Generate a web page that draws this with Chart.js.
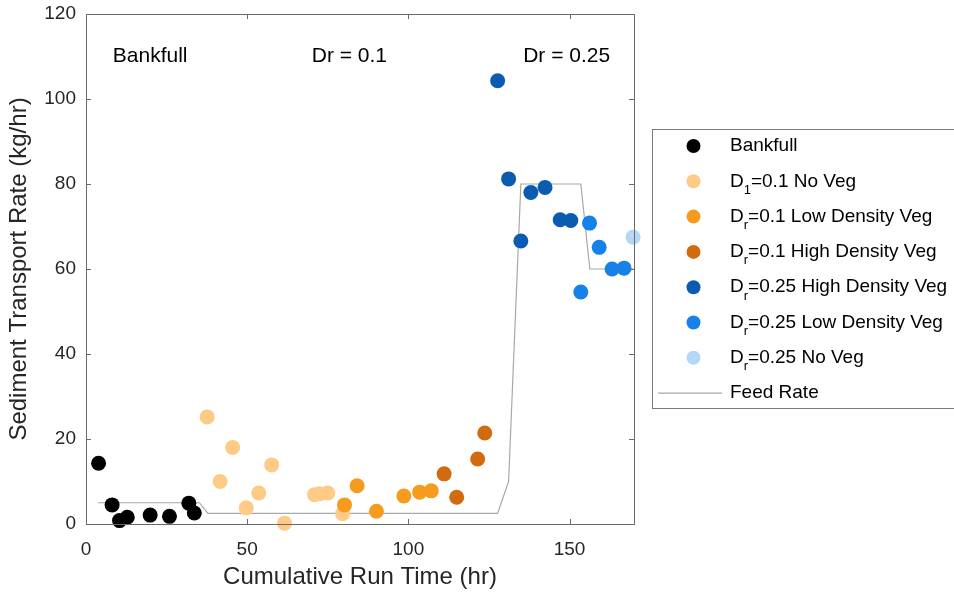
<!DOCTYPE html>
<html>
<head>
<meta charset="utf-8">
<script src="https://cdn.jsdelivr.net/npm/chart.js@4/dist/chart.umd.min.js"></script>
<style>
  html, body { margin: 0; padding: 0; background: #fff; }
  #wrap { width: 954px; height: 594px; }
</style>
</head>
<body>
<div id="wrap"><canvas id="c" width="954" height="594"></canvas></div>
<script>
// Sediment transport vs cumulative run time

// series values
const bankfullX = [3.9, 8.1, 10.4, 12.8, 19.9, 25.9, 31.9, 33.6];
const bankfullY = [14.3, 4.5, 0.8, 1.6, 2.1, 1.8, 4.9, 2.6];

const noVeg01X = [37.6, 41.6, 45.5, 49.7, 53.6, 57.6, 61.6, 70.9, 72.4, 75.0, 79.6];
const noVeg01Y = [25.2, 10.0, 18.0, 3.8, 7.3, 13.9, 0.2, 6.9, 7.1, 7.3, 2.4];

const lowVeg01X = [80.2, 84.1, 90.1, 98.6, 103.5, 107.1];
const lowVeg01Y = [4.5, 9.0, 3.0, 6.6, 7.5, 7.8];

const highVeg01X = [111.1, 115.0, 121.5, 123.7];
const highVeg01Y = [11.8, 6.3, 15.3, 21.4];

const highVeg025X = [127.7, 131.1, 134.9, 138.0, 142.4, 147.1, 150.4];
const highVeg025Y = [104.3, 81.2, 66.6, 78.0, 79.2, 71.6, 71.4];

const lowVeg025X = [153.5, 156.2, 159.2, 163.2, 166.9];
const lowVeg025Y = [54.6, 70.8, 65.1, 60.0, 60.2];

const noVeg025X = [169.7];
const noVeg025Y = [67.5];

const feedX = [3.7, 35.2, 37.8, 127.7, 131.1, 134.9, 153.5, 156.3, 170];
const feedY = [5.0, 5.0, 2.5, 2.5, 10.0, 80.0, 80.0, 60.0, 60.0];

// legend labels: [main, subscript, rest]
const seriesNames = [
    ['Bankfull', '', ''],
    ['D', '1', '=0.1 No Veg'],
    ['D', 'r', '=0.1 Low Density Veg'],
    ['D', 'r', '=0.1 High Density Veg'],
    ['D', 'r', '=0.25 High Density Veg'],
    ['D', 'r', '=0.25 Low Density Veg'],
    ['D', 'r', '=0.25 No Veg'],
    ['Feed Rate', '', '']
];
const seriesColors = ['#000000', '#fdcb86', '#f79b1f', '#d26b10', '#0b5cb0', '#1681e8', '#b5d7f6', '#a8a8a8'];

// phase annotations
const phaseLabels = ['Bankfull', 'Dr = 0.1', 'Dr = 0.25'];
const phaseX = [19.9, 81.7, 149.1];
const phaseY = [110, 110, 110];

// axis ticks
const xTicks = [0, 50, 100, 150];
const yTicks = [0, 20, 40, 60, 80, 100, 120];

const FONT = '"Liberation Sans", Arial, sans-serif';
const AXIS_COLOR = '#6a6a6a';
const TEXT_COLOR = '#262626';

function pts(xs, ys) {
    return xs.map((x, i) => ({ x: x, y: ys[i] }));
}

const pointSets = [
    pts(bankfullX, bankfullY),
    pts(noVeg01X, noVeg01Y),
    pts(lowVeg01X, lowVeg01Y),
    pts(highVeg01X, highVeg01Y),
    pts(highVeg025X, highVeg025Y),
    pts(lowVeg025X, lowVeg025Y),
    pts(noVeg025X, noVeg025Y)
];

const datasets = pointSets.map((data, i) => ({
    label: seriesNames[i].join(''),
    data: data,
    backgroundColor: seriesColors[i],
    borderColor: seriesColors[i],
    pointRadius: 7.5,
    pointBorderWidth: 0,
    showLine: false,
    clip: false,
    order: 7 - i
}));

datasets.push({
    label: 'Feed Rate',
    data: pts(feedX, feedY),
    borderColor: seriesColors[7],
    borderWidth: 1.2,
    pointRadius: 0,
    showLine: true,
    fill: false,
    tension: 0,
    order: 10
});

// box, inward ticks, phase text and legend
const decorPlugin = {
    id: 'decor',
    afterDraw(chart) {
        const ctx = chart.ctx;
        const xs = chart.scales.x;
        const ys = chart.scales.y;
        const a = chart.chartArea;
        ctx.save();

        // box
        ctx.strokeStyle = AXIS_COLOR;
        ctx.lineWidth = 1;
        ctx.strokeRect(a.left + 0.5, a.top + 0.5, a.right - a.left, a.bottom - a.top);

        // inward ticks
        ctx.beginPath();
        xTicks.forEach(v => {
            const px = Math.round(xs.getPixelForValue(v)) + 0.5;
            ctx.moveTo(px, a.bottom); ctx.lineTo(px, a.bottom - 5);
            ctx.moveTo(px, a.top); ctx.lineTo(px, a.top + 5);
        });
        yTicks.forEach(v => {
            const py = Math.round(ys.getPixelForValue(v)) + 0.5;
            ctx.moveTo(a.left, py); ctx.lineTo(a.left + 5, py);
            ctx.moveTo(a.right, py); ctx.lineTo(a.right - 5, py);
        });
        ctx.stroke();

        // phase labels
        ctx.fillStyle = '#000';
        ctx.font = '21px ' + FONT;
        ctx.textAlign = 'center';
        ctx.textBaseline = 'middle';
        phaseLabels.forEach((t, i) => {
            ctx.fillText(t, xs.getPixelForValue(phaseX[i]), ys.getPixelForValue(phaseY[i]));
        });

        // legend
        const lx = 652.5, ly = 129.5, lw = 320, lh = 279;
        ctx.strokeStyle = '#7a7a7a';
        ctx.strokeRect(lx, ly, lw, lh);
        ctx.textAlign = 'left';
        const rowH = 35.3;
        seriesNames.forEach((name, i) => {
            const cy = 146 + i * rowH;
            if (i < 7) {
                ctx.fillStyle = seriesColors[i];
                ctx.beginPath();
                ctx.arc(693.5, cy, 7, 0, Math.PI * 2);
                ctx.fill();
            } else {
                ctx.strokeStyle = seriesColors[i];
                ctx.lineWidth = 1.2;
                ctx.beginPath();
                ctx.moveTo(658, cy); ctx.lineTo(722, cy);
                ctx.stroke();
            }
            ctx.fillStyle = '#000';
            let tx = 730;
            ctx.font = '19px ' + FONT;
            ctx.fillText(name[0], tx, cy);
            tx += ctx.measureText(name[0]).width;
            if (name[1]) {
                ctx.font = '13px ' + FONT;
                ctx.fillText(name[1], tx, cy + 9);
                tx += ctx.measureText(name[1]).width;
                ctx.font = '19px ' + FONT;
            }
            if (name[2]) ctx.fillText(name[2], tx, cy);
        });
        ctx.restore();
    }
};

new Chart(document.getElementById('c'), {
    type: 'scatter',
    data: { datasets: datasets },
    options: {
        responsive: false,
        animation: false,
        layout: { padding: { top: 14, right: 320, left: 0, bottom: 0 } },
        plugins: {
            legend: { display: false },
            tooltip: { enabled: false }
        },
        scales: {
            x: {
                type: 'linear',
                min: 0,
                max: 170,
                afterFit: s => { s.height = 70; s.paddingLeft = 0; s.paddingRight = 0; },
                afterBuildTicks: s => { s.ticks = xTicks.map(v => ({ value: v })); },
                grid: { display: false, drawTicks: false },
                border: { display: false },
                ticks: { color: TEXT_COLOR, padding: 14, font: { family: FONT, size: 19 } },
                title: {
                    display: true,
                    text: 'Cumulative Run Time (hr)',
                    color: TEXT_COLOR,
                    padding: { top: 0, bottom: 2 },
                    font: { family: FONT, size: 24 }
                }
            },
            y: {
                type: 'linear',
                min: 0,
                max: 120,
                afterFit: s => { s.width = 86; s.paddingTop = 0; s.paddingBottom = 0; },
                afterBuildTicks: s => { s.ticks = yTicks.map(v => ({ value: v })); },
                grid: { display: false, drawTicks: false },
                border: { display: false },
                ticks: { color: TEXT_COLOR, padding: 10, font: { family: FONT, size: 19 } },
                title: {
                    display: true,
                    text: 'Sediment Transport Rate (kg/hr)',
                    color: TEXT_COLOR,
                    padding: { top: 5, bottom: 0 },
                    font: { family: FONT, size: 24 }
                }
            }
        }
    },
    plugins: [decorPlugin]
});
</script>
</body>
</html>
